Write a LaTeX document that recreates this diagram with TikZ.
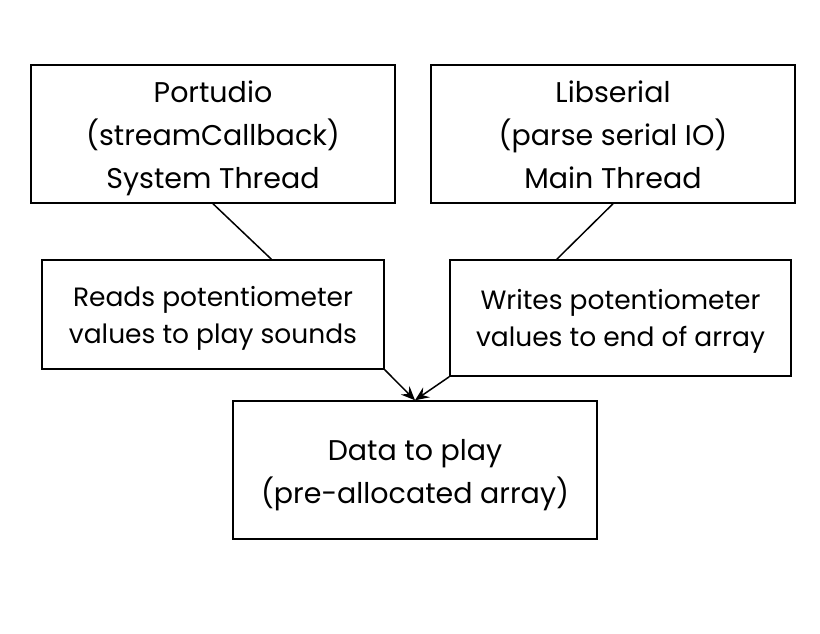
\documentclass[tikz,border=0pt]{standalone}
\usepackage{fontspec}
\setmainfont{Poppins}
\usetikzlibrary{arrows.meta,calc}
\newcommand{\txtlines}[2]{\raisebox{#1}[\height][\depth]{\begin{tabular}{@{}c@{}}#2\end{tabular}}}
\begin{document}
\begin{tikzpicture}[x=1pt,y=-1pt,
  bigbox/.style={draw,line width=1.5pt,minimum width=364pt,minimum height=138pt,align=center,font=\fontsize{28.5}{43}\selectfont,inner sep=0pt},
  smallbox/.style={draw,line width=1.5pt,minimum width=342pt,align=center,font=\fontsize{26.5}{37}\selectfont,inner sep=0pt},
  conn/.style={line width=1.5pt},
  arr/.style={line width=1.5pt,-{Stealth[length=14pt,width=12pt,inset=5pt]}}]
\useasboundingbox (0,0) rectangle (820,633);
\node[bigbox] (A) at (213,134) {\txtlines{-3pt}{Portudio\\(streamCallback)\\System Thread}};
\node[bigbox] (B) at (613,134) {\txtlines{-3pt}{Libserial\\(parse serial IO)\\Main Thread}};
\node[smallbox,minimum height=109pt] (C) at (213,314.5) {\txtlines{-3pt}{Reads potentiometer\\values to play sounds}};
\node[smallbox,minimum width=341pt,minimum height=116pt] (D) at (620.5,318) {\txtlines{-3pt}{Writes potentiometer\\values to end of array}};
\node[bigbox] (E) at (415,470) {\txtlines{-3pt}{Data to play\\(pre-allocated array)}};
\draw[conn] (A.south) -- ($(C.north west)!0.67!(C.north east)$);
\draw[conn] (B.south) -- ($(D.north west)!0.314!(D.north east)$);
\draw[arr] (C.south east) -- (E.north);
\draw[arr] (D.south west) -- (E.north);
\end{tikzpicture}
\end{document}
